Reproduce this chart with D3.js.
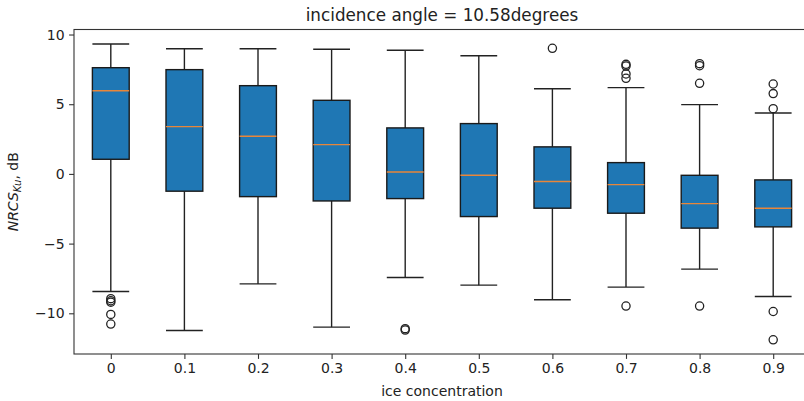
<!DOCTYPE html>
<html>
<head>
<meta charset="utf-8">
<script src="https://cdn.jsdelivr.net/npm/d3@7"></script>
<style>
  body { margin: 0; background: #fff; }
  text { font-family: "DejaVu Sans", sans-serif; fill: #222; }
</style>
</head>
<body>
<div id="chart"></div>
<script>
// ice concentration classes
var categories = ["0", "0.1", "0.2", "0.3", "0.4", "0.5", "0.6", "0.7", "0.8", "0.9"];

// box statistics, NRCS in dB
var whiskerLow  = [-8.44, -11.23, -7.89, -10.99, -7.43, -7.98, -9.03, -8.12, -6.83, -8.80];
var q1          = [ 1.05,  -1.24, -1.63,  -1.94, -1.77, -3.06, -2.46, -2.82, -3.89, -3.80];
var medians     = [ 5.97,   3.39,  2.70,   2.10,  0.14, -0.10, -0.55, -0.77, -2.13, -2.46];
var q3          = [ 7.62,   7.48,  6.33,   5.28,  3.30,  3.61,  1.94,  0.81, -0.10, -0.43];
var whiskerHigh = [ 9.32,   8.98,  8.98,   8.94,  8.87,  8.48,  6.11,  6.19,  4.97,  4.37];

var outliers = [
    [-8.95, -9.1, -9.2, -10.08, -10.77],
    [],
    [],
    [],
    [-11.1, -11.2],
    [],
    [9.01],
    [7.86, 7.74, 7.17, 6.86, -9.48],
    [7.91, 7.76, 6.50, -9.48],
    [6.45, 5.76, 4.68, -9.87, -11.90]
];

var yTicks = [-10, -5, 0, 5, 10];

var w = 804, h = 401;
var padLeft = 74, padRight = 810, padTop = 29.5, padBottom = 354;

var svg = d3.select("#chart").append("svg")
    .attr("width", w)
    .attr("height", h);

svg.append("rect").attr("width", w).attr("height", h).attr("fill", "#fff");

var x = d3.scalePoint()
    .domain(categories)
    .range([padLeft, padRight])
    .padding(0.5);

var y = d3.scaleLinear()
    .domain([-12.92, 10.36])
    .range([padBottom, padTop]);

var boxW = x.step() * 0.5;

// boxes
svg.append("g").selectAll("g")
    .data(categories)
    .enter()
    .append("g")
    .each(function(d, i) {
        var g = d3.select(this);
        var cx = x(d);
        // whiskers
        g.append("line")
            .attr("x1", cx).attr("x2", cx)
            .attr("y1", y(q3[i])).attr("y2", y(whiskerHigh[i]))
            .attr("stroke", "#222").attr("stroke-width", 1.4);
        g.append("line")
            .attr("x1", cx).attr("x2", cx)
            .attr("y1", y(q1[i])).attr("y2", y(whiskerLow[i]))
            .attr("stroke", "#222").attr("stroke-width", 1.4);
        // caps
        [whiskerHigh[i], whiskerLow[i]].forEach(function(v) {
            g.append("line")
                .attr("x1", cx - boxW / 2).attr("x2", cx + boxW / 2)
                .attr("y1", y(v)).attr("y2", y(v))
                .attr("stroke", "#222").attr("stroke-width", 1.4);
        });
        g.append("rect")
            .attr("x", cx - boxW / 2)
            .attr("y", y(q3[i]))
            .attr("width", boxW)
            .attr("height", y(q1[i]) - y(q3[i]))
            .attr("fill", "#1f77b4")
            .attr("stroke", "#1a1a1a")
            .attr("stroke-width", 1.4);
        g.append("line")
            .attr("x1", cx - boxW / 2).attr("x2", cx + boxW / 2)
            .attr("y1", y(medians[i])).attr("y2", y(medians[i]))
            .attr("stroke", "#e8863a").attr("stroke-width", 1.4);
        // fliers
        g.selectAll("circle").data(outliers[i])
            .enter()
            .append("circle")
            .attr("cx", cx)
            .attr("cy", function(v) { return y(v); })
            .attr("r", 4.1)
            .attr("fill", "none")
            .attr("stroke", "#222")
            .attr("stroke-width", 1.3);
    });

// axes
var xAxis = svg.append("g")
    .attr("transform", "translate(0," + padBottom + ")")
    .call(d3.axisBottom(x).tickSize(4.9).tickPadding(4.5));
xAxis.select(".domain").remove();
xAxis.selectAll("line").attr("stroke", "#333").attr("stroke-width", 1.1);
xAxis.selectAll("text").style("font-size", "14px").style("font-family", "DejaVu Sans").attr("fill", "#222");

var yAxis = svg.append("g")
    .attr("transform", "translate(" + padLeft + ",0)")
    .call(d3.axisLeft(y).tickValues(yTicks).tickSize(4.9).tickPadding(4.5)
        .tickFormat(function(d) { return d < 0 ? "\u2212" + Math.abs(d) : d; }));
yAxis.select(".domain").remove();
yAxis.selectAll("line").attr("stroke", "#333").attr("stroke-width", 1.1);
yAxis.selectAll("text").style("font-size", "14px").style("font-family", "DejaVu Sans").attr("fill", "#222");

// frame
svg.append("rect")
    .attr("x", padLeft).attr("y", padTop)
    .attr("width", padRight - padLeft).attr("height", padBottom - padTop)
    .attr("fill", "none")
    .attr("stroke", "#333")
    .attr("stroke-width", 1.1);

// title
svg.append("text")
    .attr("x", (padLeft + padRight) / 2)
    .attr("y", 20.5)
    .attr("text-anchor", "middle")
    .style("font-size", "16.8px")
    .text("incidence angle = 10.58degrees");

// x label
svg.append("text")
    .attr("x", (padLeft + padRight) / 2)
    .attr("y", 396)
    .attr("text-anchor", "middle")
    .style("font-size", "14px")
    .text("ice concentration");

// y label
var yl = svg.append("text")
    .attr("transform", "translate(18," + ((padTop + padBottom) / 2) + ") rotate(-90)")
    .attr("text-anchor", "middle")
    .style("font-size", "14px");
yl.append("tspan").style("font-style", "italic").text("NRCS");
yl.append("tspan").style("font-style", "italic").style("font-size", "10px").attr("dy", 3).text("Ku");
yl.append("tspan").attr("dy", -3).text(", dB");
</script>
</body>
</html>
